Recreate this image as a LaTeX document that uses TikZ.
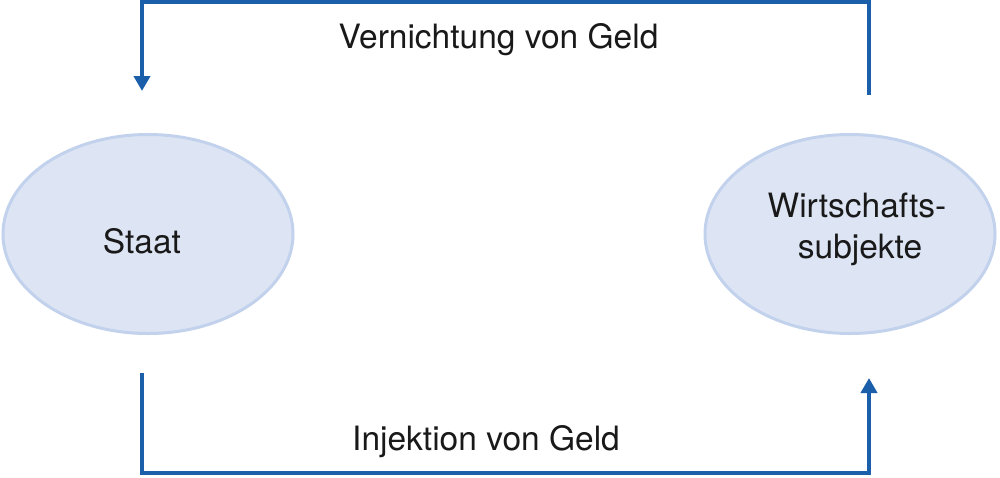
\documentclass[tikz,border=0pt]{standalone}
\usepackage{fontspec}
\setmainfont{TeX Gyre Heros}
\usetikzlibrary{shapes.geometric,arrows.meta}
\definecolor{flowblue}{HTML}{1B5FAA}
\definecolor{ellfill}{HTML}{DDE5F5}
\definecolor{elldraw}{HTML}{C3D2EC}
\tikzset{
  ell/.style={ellipse, draw=elldraw, fill=ellfill, line width=3pt, minimum width=290pt, minimum height=199pt, inner sep=0pt},
  lbl/.style={font=\fontsize{33.5}{41}\selectfont, text=black!90, inner sep=0pt, anchor=base},
  flow/.style={draw=flowblue, line width=4pt, line join=miter},
  tip/.style={-{Triangle[width=16pt,length=15pt]}}
}
\begin{document}
\begin{tikzpicture}[x=1pt,y=-1pt]
\useasboundingbox (0,0) rectangle (1000,477);
\fill[white] (0,0) rectangle (1000,477);
% ellipses
\node[ell] (staat) at (148,234) {};
\node[ell] (wirt) at (850,234) {};
\node[lbl] (staattxt) at (142,253) {Staat};
\node[lbl] (wirttxt1) at (857,217) {Wirtschafts-};
\node[lbl] (wirttxt2) at (860,258) {subjekte};
% connector end points
\coordinate (topR) at (869,95);
\coordinate (topL) at (142,91);
\coordinate (botL) at (142,373);
\coordinate (botR) at (869,378);
% top flow: Wirtschaftssubjekte -> Staat
\draw[flow,tip] (topR) -- (869,2) -- (142,2) -- (topL);
% bottom flow: Staat -> Wirtschaftssubjekte
\draw[flow,tip] (botL) -- (142,473) -- (869,473) -- (botR);
% labels
\node[lbl] (vern) at (498.5,48) {Vernichtung von Geld};
\node[lbl] (inj) at (486,450) {Injektion von Geld};
\end{tikzpicture}
\end{document}
